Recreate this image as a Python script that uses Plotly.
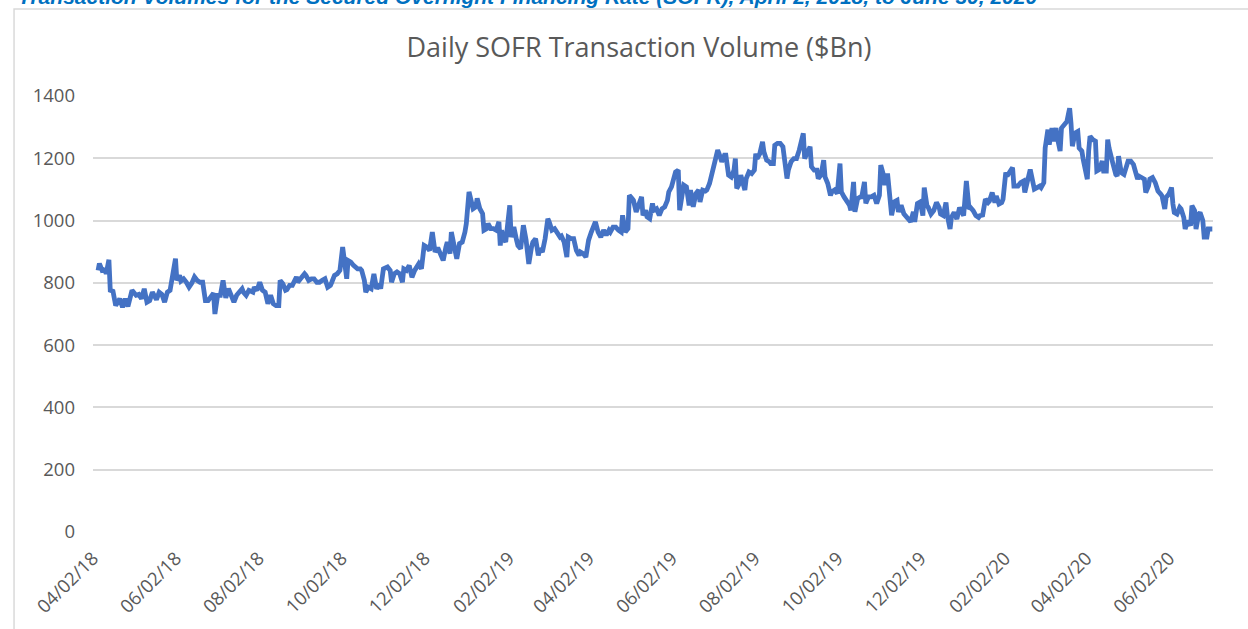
import pandas as pd
import plotly.graph_objects as go

start_date = "2018-04-02"

# days since 04/02/18 and daily SOFR transaction volume ($Bn)
day_offsets = [
    0, 1, 3, 5, 6, 8, 9, 11, 13, 14, 16, 18, 20, 22, 23, 25, 28, 30, 32, 34, 36, 38, 40, 43, 45, 47, 49, 51, 53, 54,
    57, 58, 60, 61, 63, 65, 67, 69, 71, 73, 75, 77, 79, 81, 83, 85, 86, 88, 90, 92, 94, 96, 98, 100, 102, 104, 106,
    107, 109, 111, 114, 115, 117, 119, 121, 123, 125, 127, 129, 131, 133, 134, 136, 138, 139, 141, 143, 146, 147,
    149, 152, 153, 155, 157, 159, 161, 163, 165, 167, 169, 171, 172, 174, 176, 178, 180, 181, 183, 184, 186, 188,
    191, 193,
    194, 196, 197, 199, 201, 203, 205, 207, 208, 210, 213, 215, 216, 218, 220, 222, 224, 225, 227, 229, 231, 233,
    235, 236, 238, 240, 242, 244, 246, 248, 250, 252, 254, 256, 257, 259, 260, 262, 264, 266, 268, 270, 271, 273,
    274, 276, 278, 279, 281, 283, 284, 286, 287, 289, 291, 293, 295, 296, 297, 298, 300, 301, 303, 304, 306, 308,
    309, 311, 313, 315, 317, 319, 320, 322, 324, 325, 327, 329, 331, 332, 334, 336, 338, 340, 341, 343, 345, 346,
    348, 350, 352, 354, 355, 357, 359, 361, 363, 365, 366, 368, 370, 372, 374, 376, 377, 379, 381, 383, 385, 386,
    388, 390, 391, 393, 394, 396, 398,
    400, 401, 403, 404, 406, 408, 409, 411, 413, 415, 417, 419, 420, 422, 424, 425, 427, 428, 430, 431, 433, 435,
    436, 438, 440, 442, 443, 445, 447, 448, 450, 452, 454, 456, 457, 459, 461, 462, 464, 466, 468, 469, 470, 472,
    473, 474, 476, 477, 479, 481, 483, 484, 485, 487, 489, 490, 492, 494, 495, 497, 498, 500, 502, 504, 505, 507,
    508, 510, 512, 514, 516, 518, 519, 520, 522, 524, 525, 527, 529, 530, 532, 534, 535, 537, 539, 540, 542, 544,
    546, 547, 549, 551, 553, 554, 556, 557, 559, 561, 562, 564, 565, 567, 569, 571, 573, 575, 576, 578, 579, 581,
    583, 584, 586, 588, 589, 591, 593, 595, 597, 598, 600, 601, 603, 605,
    607, 608, 610, 611, 613, 615, 617, 619, 620, 622, 624, 625, 627, 628, 630, 632, 634, 635, 637, 639, 641, 642,
    644, 646, 648, 649, 651, 653, 655, 656, 658, 660, 661, 663, 665, 666, 668, 669, 671, 673, 674, 676, 677, 679,
    681, 682, 684, 686, 688, 689, 691, 693, 694, 696, 697, 699, 700, 702, 703, 705, 706, 708, 709, 711, 713, 714,
    715, 716, 717, 719, 721, 722, 724, 725, 727, 728, 729, 730, 732, 734, 735, 737, 739, 740, 742, 743, 744, 746,
    747, 749, 750, 751, 753, 755, 756, 758, 760, 762, 763, 765, 766, 768, 770, 771, 773, 774, 776, 778, 780, 782,
    783, 785, 786, 788, 790, 791, 792, 794, 796, 797, 799, 800, 802, 804, 805, 807, 808, 810, 811, 813, 814, 816,
    817, 820,
]

volumes = [
    840, 862, 840, 842, 829, 874, 776, 773, 727, 733, 749, 722, 749, 724, 738, 776, 760, 763, 749, 781, 738, 743,
    770, 746, 770, 763, 738, 770, 776, 808,
    878, 808, 824, 806, 813, 802, 786, 799, 819, 808, 802, 802, 743, 743, 754, 767, 700, 760, 760, 808, 752, 781,
    760, 738, 760, 770, 781,
    770, 760, 776, 770, 786, 776, 802, 776, 770, 733, 760, 733, 727, 727, 808, 797, 776, 778, 792, 792, 819, 802,
    813, 829, 824, 808, 813, 813, 802, 802, 808, 813, 786, 792, 802, 824, 829, 840, 915, 883, 813, 872, 867, 856,
    845, 845,
    840, 808, 770, 786, 781, 829, 781, 797, 781, 845, 851, 840, 802, 829, 835, 829, 802, 845, 840, 856, 818, 840,
    851, 861, 845, 920, 915, 904, 963, 899, 913, 894, 872, 915, 931, 894, 963, 920, 877, 926, 931, 963, 990, 1092,
    1076, 1038, 1044, 1071, 1038, 1022, 969, 974, 990, 974, 974, 969, 996, 920, 969, 947, 931, 969, 1049, 947, 979,
    937, 920, 910, 985, 937, 861, 915, 931, 942, 888, 910, 899, 942, 1006, 996, 969, 974, 963, 947, 950, 931, 883,
    947, 942, 942, 904, 888, 899, 894, 883, 937, 963, 990, 996, 963, 947, 969, 953, 969, 963, 979, 979, 969, 963,
    1017, 963, 974, 1081, 1071, 1065, 1028, 1049,
    1076, 1017, 1033, 1012, 1006, 1055, 1033, 1038, 1017, 1038, 1044, 1065, 1092, 1108, 1140, 1156, 1162, 1033,
    1087, 1114, 1108, 1049, 1098, 1044, 1087, 1098, 1060, 1098, 1095, 1098, 1119, 1151, 1194, 1226, 1215, 1189,
    1210, 1210, 1146, 1140, 1162, 1199, 1103, 1119, 1146, 1130, 1098, 1135, 1156, 1151, 1162, 1215, 1199, 1215,
    1253, 1221, 1194, 1189, 1183, 1183, 1242, 1248, 1248, 1237, 1205, 1135, 1162, 1189, 1199, 1199, 1226, 1275,
    1280, 1199, 1215, 1237, 1173, 1162, 1162, 1135, 1146, 1194, 1140, 1119, 1081, 1092, 1098, 1087, 1183, 1092,
    1076, 1065, 1049, 1033, 1124, 1028, 1071, 1076, 1076, 1124, 1055, 1076, 1076, 1081, 1055, 1081, 1178, 1146,
    1114, 1151, 1076, 1017, 1060, 1065, 1028, 1049, 1022, 1012, 1001, 996, 1028, 996, 1055, 1060,
    1016, 1106, 1048, 1042, 1021, 1032, 1058, 1042, 1021, 1016, 1058, 1016, 973, 1010, 1026, 1005, 1042, 1032,
    1016, 1127, 1037, 1042, 1032, 1016, 1010, 1016, 1018, 1069, 1058, 1063, 1090, 1058, 1079, 1053, 1058, 1069,
    1154, 1143, 1154, 1170, 1111, 1111, 1111, 1122, 1127, 1090, 1133, 1164, 1122, 1101, 1106, 1111, 1106, 1122,
    1233, 1292, 1244, 1297, 1255, 1297, 1265, 1223, 1297, 1308, 1318, 1340, 1361, 1313, 1239, 1281, 1286, 1233,
    1223, 1196, 1159, 1133, 1223, 1271, 1260, 1255, 1159, 1164, 1191, 1159, 1159, 1260, 1233, 1191, 1180, 1148,
    1143, 1207, 1154, 1148, 1159, 1191, 1191, 1180, 1164, 1133, 1143, 1138, 1133, 1090, 1111, 1133, 1138, 1122,
    1095, 1085, 1079, 1037, 1074, 1085, 1106, 1053, 1026, 1021, 1042, 1037, 1010, 973, 1000, 984, 1048, 1032,
    973, 1021, 1026, 1000, 947, 947, 973, 973,
]

tick_dates = ["2018-04-02", "2018-06-02", "2018-08-02", "2018-10-02", "2018-12-02", "2019-02-02", "2019-04-02",
              "2019-06-02", "2019-08-02", "2019-10-02", "2019-12-02", "2020-02-02", "2020-04-02", "2020-06-02"]
tick_labels = ["04/02/18", "06/02/18", "08/02/18", "10/02/18", "12/02/18", "02/02/19", "04/02/19",
               "06/02/19", "08/02/19", "10/02/19", "12/02/19", "02/02/20", "04/02/20", "06/02/20"]
y_ticks = [0, 200, 400, 600, 800, 1000, 1200, 1400]

chart_title = "Daily SOFR Transaction Volume ($Bn)"
page_heading = ("Transaction Volumes for the Secured Overnight Financing Rate (SOFR), "
                "April 2, 2018, to June 30, 2020")

dates = pd.Timestamp(start_date) + pd.to_timedelta(day_offsets, unit="D")

fig = go.Figure()
fig.add_trace(go.Scatter(
    x=dates, y=volumes, mode="lines",
    line=dict(color="#4472C4", width=4.8),
    showlegend=False, hoverinfo="x+y",
))

grey = "#595959"
tick_font = dict(family="Open Sans, DejaVu Sans, sans-serif", size=18.5, color=grey)

fig.update_layout(
    width=1248, height=629,
    margin=dict(l=93, r=35, t=96, b=97, autoexpand=False),
    paper_bgcolor="white", plot_bgcolor="white",
    title=dict(text=chart_title, x=0.512, xref="container", y=0.9237, yref="container",
               xanchor="center", yanchor="middle",
               font=dict(family="Open Sans, DejaVu Sans, sans-serif", size=27, color=grey)),
    xaxis=dict(
        type="date", automargin=False,
        range=["2018-03-29 07:00", "2020-06-30 12:00"],
        tickmode="array", tickvals=tick_dates, ticktext=tick_labels,
        tickangle=-45, tickfont=tick_font,
        showgrid=False, zeroline=False, showline=False, ticks="",
        ticklabelstandoff=11, ticklabelshift=-5,
    ),
    yaxis=dict(
        automargin=False,
        range=[0, 1400], tickmode="array", tickvals=y_ticks,
        tickfont=tick_font, showgrid=True, gridcolor="#D9D9D9", gridwidth=1.5,
        zeroline=False, showline=False, ticks="", ticklabelstandoff=17,
    ),
    shapes=[dict(type="rect", xref="paper", yref="paper",
                 x0=-0.0705, x1=1.25, y0=-0.5, y1=1.1995,
                 line=dict(color="#D9D9D9", width=1.5), fillcolor="rgba(0,0,0,0)", layer="below")],
    annotations=[dict(text="<b><i>" + page_heading + "</i></b>", xref="paper", yref="paper",
                      x=-0.0685, y=1.1975, xanchor="left", yanchor="bottom", showarrow=False,
                      font=dict(family="Liberation Sans, Arial, sans-serif", size=21, color="#0070C0"),
                      )],
)

fig.write_html("out.html", config={"displayModeBar": False},
               post_script="document.body.style.margin='0';document.body.style.overflow='hidden';")
